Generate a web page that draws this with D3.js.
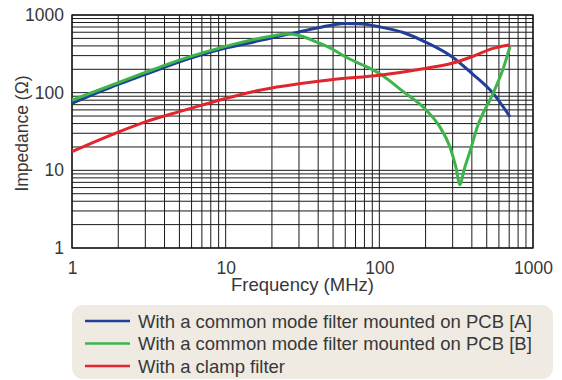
<!DOCTYPE html>
<html>
<head>
<meta charset="utf-8">
<script src="https://cdn.jsdelivr.net/npm/d3@7"></script>
<style>
  body { margin: 0; background: #fff; }
  svg text { font-family: "Liberation Sans", Arial, sans-serif; fill: #383838; }
</style>
</head>
<body>
<svg id="chart"></svg>
<script>
// values (MHz, ohm)
const blueFreq = [1, 2, 3, 4, 6, 10, 12.4, 20, 30, 40, 60, 78, 100, 143, 198, 297, 400, 550, 708];
const blueZ = [73, 128, 172, 212, 280, 375, 410, 510, 605, 684, 780, 765, 705, 595, 452, 290, 177, 98, 49];

const greenFreq = [1, 2, 3, 4, 6, 10, 20, 25, 30, 40, 50, 60, 75, 87, 103, 143, 198, 248, 288, 315, 335, 355, 387, 438, 550, 640, 708];
const greenZ = [80, 135, 182, 225, 295, 395, 537, 569, 545, 440, 360, 290, 235, 205, 170, 103, 62, 36, 20, 11, 6.5, 10, 17, 38, 98, 205, 390];

const redFreq = [1, 2, 3, 5, 7, 10, 15, 20, 30, 50, 100, 198, 297, 400, 550, 640, 708];
const redZ = [17.4, 31, 42, 57, 69, 84, 103, 115, 130, 148, 168, 205, 239, 290, 372, 400, 410];

const xTicks = [1, 10, 100, 1000];
const yTicks = [1, 10, 100, 1000];

const seriesNames = [
  "With a common mode filter mounted on PCB [A]",
  "With a common mode filter mounted on PCB [B]",
  "With a clamp filter"
];
const seriesColors = ["#1f3f98", "#3db54a", "#e0262b"];

const config = {
  width: 562, height: 380,
  margin: {top: 15, right: 29, bottom: 132, left: 72}
};

const series = [
  {freq: blueFreq, z: blueZ},
  {freq: greenFreq, z: greenZ},
  {freq: redFreq, z: redZ}
];

const innerW = config.width - config.margin.left - config.margin.right;
const innerH = config.height - config.margin.top - config.margin.bottom;

const svg = d3.select("#chart")
  .attr("width", config.width)
  .attr("height", config.height);

const chart = svg.append("g")
  .attr("transform", `translate(${config.margin.left},${config.margin.top})`);

const xScale = d3.scaleLog().domain([1, 1000]).range([0, innerW]);
const yScale = d3.scaleLog().domain([1, 1000]).range([innerH, 0]);

// minor + major grid lines (1..9 per decade)
const gridVals = [];
for (let dec = 1; dec < 1000; dec *= 10) {
  for (let k = 1; k <= 9; k++) gridVals.push(dec * k);
}
gridVals.push(1000);

chart.append("g").selectAll("line")
  .data(gridVals)
  .join("line")
  .attr("x1", d => xScale(d)).attr("x2", d => xScale(d))
  .attr("y1", 0).attr("y2", innerH)
  .attr("stroke", "#1a1a1a")
  .attr("stroke-width", 1);

chart.append("g").selectAll("line")
  .data(gridVals)
  .join("line")
  .attr("y1", d => yScale(d)).attr("y2", d => yScale(d))
  .attr("x1", 0).attr("x2", innerW)
  .attr("stroke", "#1a1a1a")
  .attr("stroke-width", 1);

chart.append("rect")
  .attr("width", innerW).attr("height", innerH)
  .attr("fill", "none")
  .attr("stroke", "#111")
  .attr("stroke-width", 1.3);

// axes (labels only, grid does the rest)
const xAxis = d3.axisBottom(xScale).tickValues(xTicks).tickFormat(d3.format("d")).tickSize(0).tickPadding(14);
const yAxis = d3.axisLeft(yScale).tickValues(yTicks).tickFormat(d3.format("d")).tickSize(0).tickPadding(8);

const xAxisG = chart.append("g").attr("transform", `translate(0,${innerH})`).call(xAxis);
const yAxisG = chart.append("g").call(yAxis);
[xAxisG, yAxisG].forEach(g => {
  g.select(".domain").remove();
  g.selectAll("text").style("font-size", "17.5px").style("fill", "#383838")
    .style("font-family", "'Liberation Sans', Arial, sans-serif");
});

// curves
const line = d3.line()
  .x(d => xScale(d[0]))
  .y(d => yScale(d[1]))
  .curve(d3.curveMonotoneX);

series.forEach((s, i) => {
  chart.append("path")
    .datum(d3.zip(s.freq, s.z))
    .attr("fill", "none")
    .attr("stroke", seriesColors[i])
    .attr("stroke-width", 3)
    .attr("stroke-linejoin", "round")
    .attr("d", line);
});

// axis titles
svg.append("text")
  .attr("x", config.margin.left + innerW / 2)
  .attr("y", 291)
  .attr("text-anchor", "middle")
  .style("font-size", "18.5px")
  .text("Frequency (MHz)");

svg.append("text")
  .attr("transform", `translate(28,${config.margin.top + innerH / 2 + 2}) rotate(-90)`)
  .attr("text-anchor", "middle")
  .style("font-size", "17.5px")
  .text("Impedance (\u03A9)");

// legend
const legend = svg.append("g");
legend.append("rect")
  .attr("x", 72).attr("y", 305)
  .attr("width", 481).attr("height", 74)
  .attr("rx", 11)
  .attr("fill", "#efebe2");

seriesNames.forEach((name, i) => {
  const y = 321 + i * 22.5;
  legend.append("line")
    .attr("x1", 85).attr("x2", 130)
    .attr("y1", y).attr("y2", y)
    .attr("stroke", seriesColors[i])
    .attr("stroke-width", 2.5);
  legend.append("text")
    .attr("x", 138).attr("y", y + 6.5)
    .style("font-size", "18.5px")
    .text(name);
});
</script>
</body>
</html>
